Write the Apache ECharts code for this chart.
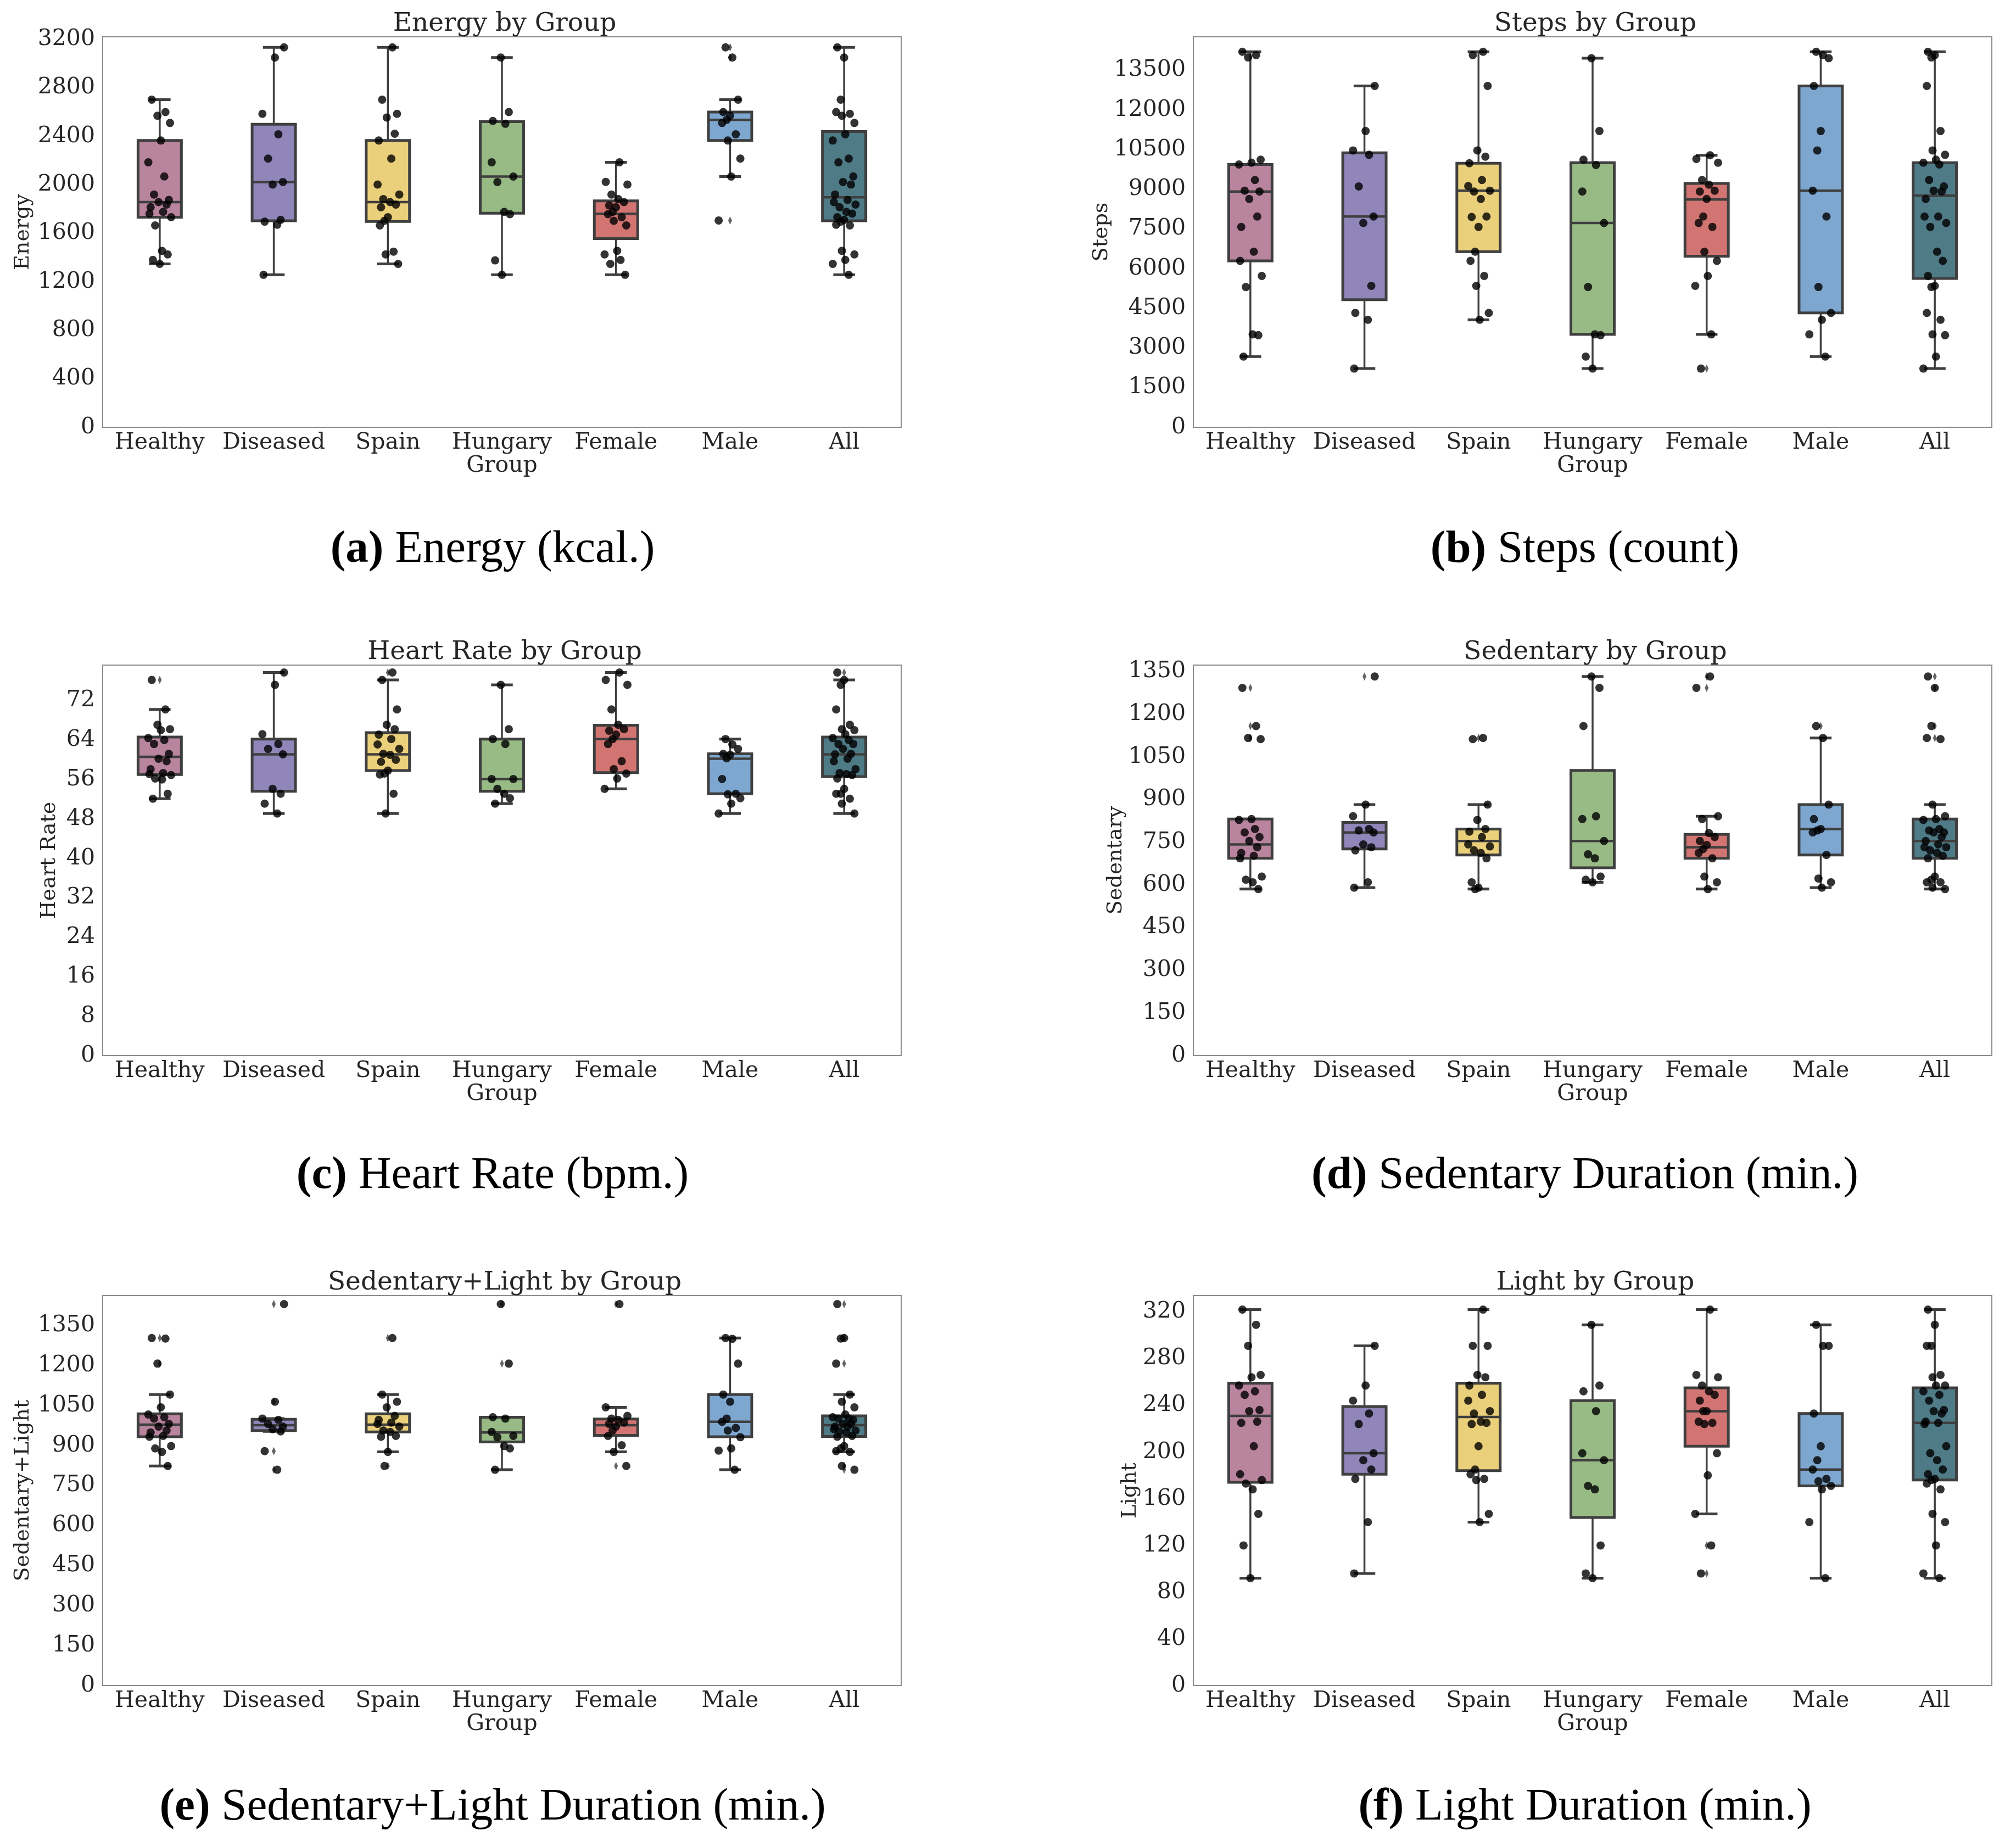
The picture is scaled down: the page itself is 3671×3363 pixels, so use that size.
<!DOCTYPE html>
<html>
<head>
<meta charset="utf-8">
<title>Activity by Group</title>
<script src="https://cdn.jsdelivr.net/npm/echarts@6/dist/echarts.min.js"></script>
<style>
html, body { margin: 0; padding: 0; background: #ffffff; }
#chart { width: 3671px; height: 3363px; }
</style>
</head>
<body>
<div id="chart"></div>
<script>
var GROUPS = ['Healthy', 'Diseased', 'Spain', 'Hungary', 'Female', 'Male', 'All'];
var COLORS = ['#b8849e', '#9186ba', '#ebd07b', '#98bb85', '#d27572', '#7ea7d0', '#4f7b87'];

// box stats per group: [lower whisker, q1, median, q3, upper whisker]
var ENERGY_BOX = [[1347, 1732, 1856, 2364, 2701], [1257, 1702, 2022, 2498, 3132], [1347, 1697, 1856, 2364, 3132],
  [1257, 1764, 2067, 2520, 3048], [1257, 1555, 1760, 1866, 2184], [2067, 2364, 2534, 2599, 2701], [1257, 1702, 1896, 2438, 3132]];
var ENERGY_PTS = [
  [2701, 2599, 2568, 2509, 2364, 2184, 2068, 1919, 1874, 1856, 1836, 1814, 1776, 1761, 1732, 1664, 1455, 1425, 1380, 1347],
  [3132, 3048, 2584, 2415, 2215, 2022, 2001, 1710, 1695, 1670, 1257],
  [3132, 2701, 2584, 2554, 2420, 2364, 2215, 2001, 1919, 1881, 1856, 1836, 1814, 1732, 1702, 1664, 1448, 1425, 1347],
  [3048, 2599, 2525, 2502, 2184, 2067, 2022, 1776, 1757, 1376, 1257],
  [2184, 2023, 2001, 1919, 1881, 1856, 1829, 1814, 1776, 1757, 1732, 1702, 1664, 1455, 1425, 1380, 1347, 1257],
  [3132, 3048, 2701, 2599, 2569, 2534, 2509, 2415, 2364, 2215, 2067, 1705],
  [3132, 3048, 2701, 2599, 2584, 2568, 2509, 2415, 2364, 2215, 2184, 2068, 2022, 2001, 1919, 1874, 1856, 1836, 1814, 1776, 1761, 1732, 1710, 1695, 1670, 1664, 1455, 1425, 1380, 1347, 1257]];
var ENERGY_OUT = [[], [], [], [], [], [3132, 3048, 1705], []];

var STEPS_BOX = [[2673, 6289, 8910, 9932, 14195], [2219, 4822, 7967, 10377, 12902], [4063, 6639, 8944, 9980, 14195],
  [2219, 3511, 7722, 10002, 13950], [3511, 6464, 8610, 9216, 10282], [2673, 4324, 8944, 12902, 14195], [2219, 5625, 8753, 10002, 14195]];
var STEPS_PTS = [
  [14195, 14065, 13980, 10115, 10002, 9932, 9347, 8944, 8910, 8630, 7967, 7574, 6639, 6289, 5721, 5302, 3511, 3480, 2673],
  [12902, 11198, 10465, 10300, 9103, 7967, 7722, 5347, 4324, 4063, 2219],
  [14195, 14065, 12902, 10465, 10230, 9980, 9347, 9120, 8944, 8910, 8630, 7967, 7950, 7574, 6639, 6289, 5721, 5347, 4324, 4063],
  [13950, 11198, 10115, 9915, 8910, 7722, 5302, 3511, 3480, 2673, 2219],
  [10282, 10140, 10000, 9347, 9170, 8944, 8910, 8630, 7967, 7722, 7574, 6639, 6289, 5721, 5347, 3511, 2219],
  [14195, 14065, 13950, 12902, 11198, 10465, 8944, 7967, 5302, 4324, 4063, 3511, 2673],
  [14195, 14065, 13980, 12902, 11198, 10465, 10300, 10115, 10002, 9932, 9347, 9103, 8944, 8910, 8630, 7967, 7967, 7722, 7574, 6639, 6289, 5721, 5347, 5302, 4324, 4063, 3511, 3480, 2673, 2219]];
var STEPS_OUT = [[], [], [], [], [2219], [], []];

var HR_BOX = [[52.1, 57.0, 60.6, 64.6, 70.2], [49.1, 53.6, 61.1, 64.2, 77.7], [49.1, 57.8, 61.1, 65.5, 76.2],
  [51.1, 53.6, 56.1, 64.2, 75.2], [54.1, 57.4, 64.2, 67.0, 77.7], [49.1, 53.1, 60.2, 61.2, 64.2], [49.1, 56.6, 61.1, 64.6, 76.2]];
var HR_PTS = [
  [76.2, 70.2, 67.1, 66.2, 66.0, 64.4, 64.0, 63.2, 61.2, 60.2, 59.7, 58.1, 57.3, 57.1, 56.9, 56.2, 56.0, 53.1, 52.1],
  [77.7, 75.2, 65.2, 63.2, 62.2, 61.1, 54.1, 53.1, 51.1, 49.1],
  [77.7, 76.2, 70.2, 67.1, 66.2, 65.1, 64.2, 63.1, 62.2, 61.2, 61.0, 60.0, 59.6, 57.8, 57.2, 57.0, 53.1, 49.1],
  [75.2, 66.2, 64.2, 63.2, 56.1, 56.1, 54.1, 53.1, 52.2, 51.1],
  [77.7, 76.2, 75.2, 70.2, 67.1, 66.2, 65.9, 65.1, 64.2, 63.2, 59.7, 58.1, 57.2, 56.2, 54.1],
  [64.2, 63.1, 62.2, 61.2, 61.0, 60.3, 56.1, 53.1, 53.0, 52.2, 51.1, 49.1],
  [77.7, 76.2, 75.2, 70.2, 67.1, 66.2, 66.0, 65.2, 64.4, 64.0, 63.2, 63.2, 62.2, 61.2, 61.1, 60.2, 59.7, 58.1, 57.3, 57.1, 56.9, 56.2, 54.1, 53.1, 53.1, 52.1, 51.1, 49.1]];
var HR_OUT = [[76.2], [], [77.7], [], [], [], [77.7]];

var SED_BOX = [[585, 693, 742, 831, 831], [590, 726, 784, 819, 882], [585, 705, 754, 796, 882],
  [609, 660, 754, 1002, 1332], [585, 693, 732, 777, 841], [590, 705, 796, 882, 1116], [585, 693, 754, 831, 882]];
var SED_PTS = [
  [1292, 1158, 1116, 1112, 831, 828, 796, 784, 768, 754, 732, 712, 702, 693, 629, 618, 609, 585],
  [1332, 882, 841, 796, 791, 784, 742, 732, 721, 609, 590],
  [1116, 1112, 882, 828, 796, 787, 768, 742, 735, 721, 712, 693, 609, 590, 585],
  [1332, 1292, 1158, 841, 831, 754, 707, 693, 629, 618, 609],
  [1332, 1292, 841, 831, 782, 768, 754, 740, 726, 712, 693, 629, 609, 585],
  [1158, 1116, 882, 831, 796, 791, 784, 705, 622, 609, 590],
  [1332, 1292, 1158, 1116, 1112, 882, 841, 831, 828, 796, 791, 784, 784, 768, 754, 742, 732, 732, 721, 712, 702, 693, 629, 618, 609, 609, 590, 585]];
var SED_OUT = [[1292, 1158, 1116], [1332], [1116], [], [1332, 1292], [1158], [1332, 1292, 1158, 1116]];

var SL_BOX = [[823, 933, 978, 1019, 1091], [953, 956, 976, 998, 1001], [876, 951, 978, 1019, 1091],
  [809, 913, 949, 1006, 1006], [876, 938, 976, 999, 1043], [809, 933, 989, 1091, 1303], [876, 934, 976, 1011, 1091]];
var SL_PTS = [
  [1303, 1301, 1207, 1091, 1043, 1016, 1006, 1001, 981, 971, 956, 949, 936, 933, 898, 889, 876, 823],
  [1430, 1064, 1001, 996, 981, 971, 961, 953, 879, 809],
  [1303, 1091, 1064, 1043, 1011, 996, 986, 981, 971, 956, 951, 936, 933, 876, 823],
  [1430, 1207, 1006, 1001, 951, 936, 931, 898, 889, 809],
  [1430, 1043, 1011, 1001, 996, 986, 981, 971, 956, 936, 901, 876, 823],
  [1303, 1300, 1207, 1091, 1064, 1001, 989, 966, 956, 931, 889, 881, 809],
  [1430, 1303, 1301, 1207, 1091, 1064, 1043, 1016, 1006, 1001, 1001, 996, 981, 981, 971, 971, 961, 956, 953, 949, 936, 933, 898, 889, 879, 876, 823, 809]];
var SL_OUT = [[1303, 1207], [1430, 1064, 879, 809], [1303, 823], [1430, 1207], [1430, 823], [], [1430, 1303, 1207, 823, 809]];

var LIGHT_BOX = [[92, 174, 231, 259, 322], [96, 181, 199, 239, 291], [140, 184, 230, 259, 322],
  [92, 144, 193, 244, 309], [147, 205, 235, 255, 322], [92, 171, 185, 233, 309], [92, 176, 225, 255, 322]];
var LIGHT_PTS = [
  [322, 309, 291, 266, 264, 257, 252, 249, 236, 235, 226, 225, 205, 181, 176, 173, 168, 147, 120, 92],
  [291, 257, 244, 233, 224, 199, 193, 185, 177, 140, 96],
  [322, 291, 291, 266, 264, 257, 249, 244, 235, 233, 226, 225, 224, 205, 185, 181, 177, 176, 147, 140],
  [309, 257, 252, 235, 199, 193, 171, 168, 120, 96, 92],
  [322, 266, 264, 257, 252, 249, 244, 235, 235, 226, 225, 224, 199, 180, 147, 120, 96],
  [309, 291, 291, 233, 205, 193, 185, 177, 175, 171, 168, 140, 92],
  [322, 309, 291, 291, 266, 264, 257, 257, 252, 249, 244, 236, 235, 233, 226, 225, 224, 205, 199, 193, 185, 181, 177, 176, 173, 168, 147, 140, 120, 96, 92]];
var LIGHT_OUT = [[], [], [], [], [120, 96], [], []];

// fixed strip offsets (fraction of a category), cycled over the points
var JITTER = [-0.07, 0.05, -0.02, 0.09, 0.01, -0.10, 0.04, -0.05, 0.08, -0.01, 0.06, -0.08, 0.03, -0.09, 0.10, -0.04, 0.02, 0.07, -0.06, 0.0, -0.03];

var PANELS = [
  {title: 'Energy by Group', yname: 'Energy', tag: '(a)', cap: ' Energy (kcal.)', max: 3219, step: 400, box: ENERGY_BOX, pts: ENERGY_PTS, out: ENERGY_OUT, col: 0, row: 0, gap: 126},
  {title: 'Steps by Group', yname: 'Steps', tag: '(b)', cap: ' Steps (count)', max: 14760, step: 1500, box: STEPS_BOX, pts: STEPS_PTS, out: STEPS_OUT, col: 1, row: 0, gap: 140},
  {title: 'Heart Rate by Group', yname: 'Heart Rate', tag: '(c)', cap: ' Heart Rate (bpm.)', max: 79.2, step: 8, box: HR_BOX, pts: HR_PTS, out: HR_OUT, col: 0, row: 1, gap: 78},
  {title: 'Sedentary by Group', yname: 'Sedentary', tag: '(d)', cap: ' Sedentary Duration (min.)', max: 1372, step: 150, box: SED_BOX, pts: SED_PTS, out: SED_OUT, col: 1, row: 1, gap: 116},
  {title: 'Sedentary+Light by Group', yname: 'Sedentary+Light', tag: '(e)', cap: ' Sedentary+Light Duration (min.)', max: 1462, step: 150, box: SL_BOX, pts: SL_PTS, out: SL_OUT, col: 0, row: 2, gap: 126},
  {title: 'Light by Group', yname: 'Light', tag: '(f)', cap: ' Light Duration (min.)', max: 334, step: 40, box: LIGHT_BOX, pts: LIGHT_PTS, out: LIGHT_OUT, col: 1, row: 2, gap: 92}
];

var COL_LEFT = [187, 2173], COL_RIGHT = [2030, 44];
var ROW_TOP = [67, 1211, 2359], ROW_BOTTOM = [2585, 1441, 294];
var CAP_X = [892, 2881];
var CAP_Y = [1001, 2141, 3291];
var W = 3671;
var SERIF = 'DejaVu Serif';
var INK = '#262626', EDGE = '#3f3f3f';

function renderBox(params, api) {
  var x = api.value(0);
  var lo = api.coord([x, api.value(1)]);
  var q1 = api.coord([x, api.value(2)]);
  var md = api.coord([x, api.value(3)]);
  var q3 = api.coord([x, api.value(4)]);
  var hi = api.coord([x, api.value(5)]);
  var half = api.size([1, 0])[0] * 0.19;
  var cap = half * 0.5;
  var cx = md[0];
  var line = {stroke: EDGE, lineWidth: 3.5};
  return {
    type: 'group',
    children: [
      {type: 'line', shape: {x1: cx, y1: q3[1], x2: cx, y2: hi[1]}, style: line},
      {type: 'line', shape: {x1: cx, y1: q1[1], x2: cx, y2: lo[1]}, style: line},
      {type: 'line', shape: {x1: cx - cap, y1: hi[1], x2: cx + cap, y2: hi[1]}, style: {stroke: EDGE, lineWidth: 5}},
      {type: 'line', shape: {x1: cx - cap, y1: lo[1], x2: cx + cap, y2: lo[1]}, style: {stroke: EDGE, lineWidth: 5}},
      {type: 'rect', shape: {x: cx - half, y: q3[1], width: half * 2, height: q1[1] - q3[1]},
        style: {fill: COLORS[params.dataIndex], stroke: EDGE, lineWidth: 5}},
      {type: 'line', shape: {x1: cx - half, y1: md[1], x2: cx + half, y2: md[1]}, style: {stroke: EDGE, lineWidth: 4.5}}
    ]
  };
}

var grids = [], xAxes = [], yAxes = [], series = [], titles = [];

for (var p = 0; p < PANELS.length; p++) {
  var P = PANELS[p];
  var cxp = P.col == 0 ? (COL_LEFT[0] + (W - COL_RIGHT[0])) / 2 : (COL_LEFT[1] + (W - COL_RIGHT[1])) / 2;
  grids.push({
    left: COL_LEFT[P.col], right: COL_RIGHT[P.col], top: ROW_TOP[P.row], bottom: ROW_BOTTOM[P.row],
    show: true, borderColor: '#8c8c8c', borderWidth: 2, backgroundColor: 'transparent'
  });
  // visible category axis (labels) and hidden value axis (positions)
  xAxes.push({
    type: 'category', gridIndex: p, data: GROUPS, boundaryGap: true,
    name: 'Group', nameLocation: 'middle', nameGap: 48,
    nameTextStyle: {fontFamily: SERIF, fontSize: 41, color: INK},
    axisLine: {show: false}, axisTick: {show: false}, splitLine: {show: false},
    axisLabel: {fontFamily: SERIF, fontSize: 41, color: INK, margin: 8, interval: 0}
  });
  xAxes.push({type: 'value', gridIndex: p, min: -0.5, max: 6.5, show: false});
  (function (step) {
    yAxes.push({
      type: 'value', gridIndex: p, min: 0, max: P.max, interval: step,
      name: P.yname, nameLocation: 'middle', nameGap: P.gap,
      nameTextStyle: {fontFamily: SERIF, fontSize: 38, color: INK},
      axisLine: {show: false}, axisTick: {show: false}, splitLine: {show: false},
      axisLabel: {
        fontFamily: SERIF, fontSize: 41, color: INK, margin: 14,
        formatter: function (v) { return Math.abs(v / step - Math.round(v / step)) < 1e-6 ? String(v) : ''; }
      }
    });
  })(P.step);

  var boxData = [], dots = [], fliers = [];
  for (var g = 0; g < GROUPS.length; g++) {
    boxData.push([g].concat(P.box[g]));
    for (var k = 0; k < P.pts[g].length; k++) {
      dots.push([g + JITTER[(k + g * 3) % JITTER.length], P.pts[g][k]]);
    }
    for (var o = 0; o < P.out[g].length; o++) {
      fliers.push([g, P.out[g][o]]);
    }
  }
  series.push({
    type: 'custom', xAxisIndex: p * 2 + 1, yAxisIndex: p, renderItem: renderBox,
    encode: {x: 0, y: [1, 2, 3, 4, 5]}, data: boxData, z: 2, silent: true
  });
  series.push({
    type: 'scatter', xAxisIndex: p * 2 + 1, yAxisIndex: p, data: fliers, z: 3,
    symbol: 'diamond', symbolSize: [7, 15], itemStyle: {color: EDGE}, silent: true
  });
  series.push({
    type: 'scatter', xAxisIndex: p * 2 + 1, yAxisIndex: p, data: dots, z: 4,
    symbol: 'circle', symbolSize: 15, itemStyle: {color: '#000000'}, silent: true
  });

  titles.push({
    text: P.title, left: cxp, textAlign: 'center', top: ROW_TOP[P.row] - 52,
    textStyle: {fontFamily: SERIF, fontSize: 47, fontWeight: 'normal', color: INK}
  });
  titles.push({
    text: '{b|' + P.tag + '}' + P.cap, left: CAP_X[P.col], textAlign: 'center', top: CAP_Y[P.row] - 46,
    textStyle: {
      fontFamily: 'Liberation Serif', fontSize: 83, fontWeight: 'normal', color: '#000000',
      rich: {b: {fontFamily: 'Liberation Serif', fontSize: 83, fontWeight: 'bold', color: '#000000'}}
    }
  });
}

var chart = echarts.init(document.getElementById('chart'), null, {renderer: 'canvas'});
chart.setOption({
  animation: false,
  backgroundColor: '#ffffff',
  title: titles,
  grid: grids,
  xAxis: xAxes,
  yAxis: yAxes,
  series: series
});
</script>
</body>
</html>
